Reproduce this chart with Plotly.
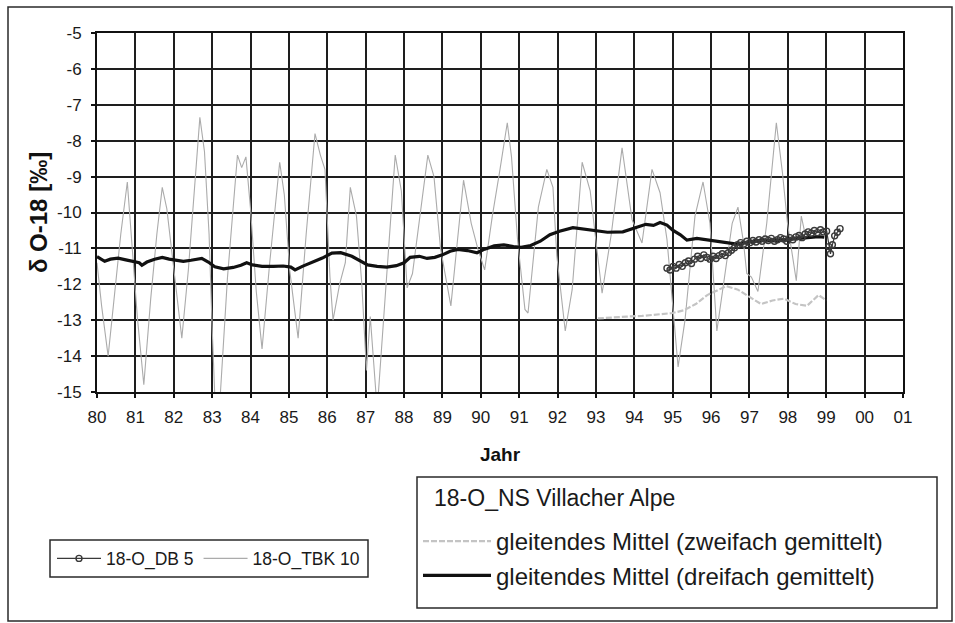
import plotly.graph_objects as go

# ---------------------------------------------------------------------------
# δ18O series (Villacher Alpe), decimal years
# ---------------------------------------------------------------------------
years_tbk = [
    1980.00, 1980.12, 1980.29, 1980.45, 1980.62, 1980.79, 1980.92, 1981.05,
    1981.22, 1981.40, 1981.56, 1981.70, 1981.82, 1981.96, 1982.21, 1982.38,
    1982.55, 1982.68, 1982.80, 1982.92, 1983.00, 1983.08, 1983.20, 1983.40,
    1983.66, 1983.77, 1983.88, 1984.00, 1984.15, 1984.30, 1984.50, 1984.76,
    1984.88, 1985.02, 1985.24, 1985.45, 1985.68, 1985.82, 1985.94, 1986.07,
    1986.15, 1986.32, 1986.47, 1986.60, 1986.76, 1986.90, 1987.02, 1987.12,
    1987.30, 1987.55, 1987.77, 1987.93, 1988.08, 1988.22, 1988.62, 1988.78,
    1988.95, 1989.22, 1989.38, 1989.55, 1989.75, 1989.92, 1990.10, 1990.30,
    1990.50, 1990.69, 1990.80, 1990.96, 1991.15, 1991.23, 1991.50, 1991.72,
    1991.88, 1991.98, 1992.20, 1992.38, 1992.64, 1992.85, 1993.00, 1993.16,
    1993.40, 1993.68, 1993.94, 1994.20, 1994.46, 1994.67, 1994.85, 1995.05,
    1995.14, 1995.32, 1995.58, 1995.79, 1995.97, 1996.15, 1996.32, 1996.55,
    1996.70, 1996.84, 1996.93, 1997.05, 1997.22, 1997.45, 1997.70, 1997.86,
    1997.99, 1998.22, 1998.35, 1998.45,
]
d18o_tbk = [
    -11.40, -12.60, -14.00, -12.30, -10.60, -9.15, -10.90, -12.90,
    -14.80, -12.40, -10.60, -9.30, -9.90, -11.20, -13.50, -11.60,
    -9.30, -7.35, -8.30, -10.60, -13.20, -15.40, -15.30, -11.80,
    -8.40, -8.75, -8.45, -9.90, -12.20, -13.80, -11.40, -8.60,
    -9.50, -11.60, -13.50, -10.60, -7.80, -8.40, -8.80, -11.80,
    -13.00, -12.00, -11.40, -9.30, -10.10, -12.00, -14.40, -12.90,
    -15.50, -11.80, -8.40, -9.40, -12.10, -11.70, -8.40, -9.00,
    -11.00, -12.60, -10.80, -9.10, -10.30, -11.00, -11.60, -10.10,
    -8.80, -7.50, -8.45, -10.80, -12.70, -12.80, -9.85, -8.80,
    -9.30, -11.20, -13.30, -12.15, -8.60, -9.40, -10.80, -12.25,
    -10.60, -8.20, -10.20, -10.85, -8.80, -9.45, -10.75, -13.20,
    -14.30, -13.00, -10.10, -9.15, -10.30, -13.30, -12.00, -10.30,
    -9.85, -10.80, -11.70, -11.80, -12.20, -10.30, -7.50, -8.90,
    -10.30, -11.90, -10.10, -10.60,
]

years_db5 = [
    1994.85, 1994.93, 1995.01, 1995.09, 1995.17, 1995.25, 1995.33, 1995.41,
    1995.49, 1995.57, 1995.65, 1995.73, 1995.81, 1995.89, 1995.97, 1996.05,
    1996.13, 1996.21, 1996.29, 1996.37, 1996.45, 1996.53, 1996.61, 1996.69,
    1996.77, 1996.85, 1996.93, 1997.01, 1997.09, 1997.17, 1997.25, 1997.33,
    1997.41, 1997.49, 1997.57, 1997.65, 1997.73, 1997.81, 1997.89, 1997.97,
    1998.05, 1998.13, 1998.21, 1998.29, 1998.37, 1998.45, 1998.53, 1998.61,
    1998.69, 1998.77, 1998.85, 1998.93, 1999.01, 1999.07, 1999.11, 1999.16,
    1999.22, 1999.29, 1999.36,
]
d18o_db5 = [
    -11.55, -11.60, -11.50, -11.55, -11.45, -11.50, -11.40, -11.35,
    -11.42, -11.30, -11.22, -11.28, -11.18, -11.25, -11.30, -11.22,
    -11.28, -11.20, -11.15, -11.20, -11.12, -11.05, -10.98, -10.90,
    -10.84, -10.88, -10.80, -10.84, -10.78, -10.82, -10.76, -10.80,
    -10.74, -10.78, -10.72, -10.80, -10.76, -10.70, -10.74, -10.80,
    -10.70, -10.76, -10.68, -10.64, -10.70, -10.60, -10.54, -10.58,
    -10.50, -10.56, -10.48, -10.54, -10.52, -10.95, -11.15, -10.90,
    -10.65, -10.55, -10.45,
]

# moving average, applied three times
years_ma3 = [
    1980.00, 1980.10, 1980.20, 1980.35, 1980.55, 1980.75, 1980.92, 1981.10,
    1981.17, 1981.30, 1981.50, 1981.70, 1981.88, 1982.05, 1982.25, 1982.45,
    1982.62, 1982.73, 1982.90, 1983.07, 1983.30, 1983.55, 1983.75, 1983.90,
    1984.05, 1984.30, 1984.60, 1984.85, 1985.05, 1985.16, 1985.35, 1985.60,
    1985.87, 1986.12, 1986.35, 1986.64, 1986.85, 1987.05, 1987.30, 1987.55,
    1987.80, 1988.00, 1988.16, 1988.40, 1988.60, 1988.80, 1989.00, 1989.20,
    1989.40, 1989.65, 1989.90, 1990.10, 1990.35, 1990.60, 1990.85, 1991.05,
    1991.30, 1991.55, 1991.80, 1992.05, 1992.40, 1992.60, 1992.85, 1993.05,
    1993.30, 1993.70, 1994.07, 1994.30, 1994.50, 1994.67, 1994.85, 1995.00,
    1995.20, 1995.37, 1995.63, 1995.97, 1996.30, 1996.67, 1997.00, 1997.30,
    1997.60, 1997.90, 1998.20, 1998.50, 1998.80, 1998.95,
]
d18o_ma3 = [
    -11.23, -11.30, -11.36, -11.30, -11.27, -11.32, -11.36, -11.40,
    -11.47, -11.38, -11.30, -11.25, -11.30, -11.33, -11.36, -11.33,
    -11.31, -11.28, -11.38, -11.51, -11.57, -11.53, -11.47, -11.40,
    -11.46, -11.50, -11.50, -11.49, -11.52, -11.60, -11.50, -11.40,
    -11.27, -11.13, -11.12, -11.22, -11.35, -11.46, -11.50, -11.52,
    -11.48, -11.40, -11.25, -11.22, -11.28, -11.25, -11.18, -11.08,
    -11.03, -11.06, -11.12, -11.02, -10.93, -10.90, -10.95, -10.97,
    -10.92, -10.80, -10.62, -10.52, -10.42, -10.45, -10.49, -10.50,
    -10.55, -10.54, -10.40, -10.33, -10.36, -10.28, -10.35, -10.49,
    -10.62, -10.77, -10.72, -10.77, -10.82, -10.88, -10.82, -10.78,
    -10.79, -10.76, -10.73, -10.69, -10.67, -10.69,
]

# moving average, applied twice
years_ma2 = [
    1993.05, 1993.40, 1993.80, 1994.20, 1994.60, 1995.00, 1995.30, 1995.60,
    1995.90, 1996.10, 1996.40, 1996.70, 1997.00, 1997.30, 1997.60, 1997.90,
    1998.20, 1998.50, 1998.80, 1999.00,
]
d18o_ma2 = [
    -12.95, -12.92, -12.90, -12.88, -12.85, -12.80, -12.72, -12.55,
    -12.30, -12.20, -12.05, -12.15, -12.35, -12.55, -12.45, -12.40,
    -12.55, -12.60, -12.30, -12.45,
]

tick_years = list(range(1980, 2002))
tick_labels = ["80", "81", "82", "83", "84", "85", "86", "87", "88", "89", "90",
               "91", "92", "93", "94", "95", "96", "97", "98", "99", "00", "01"]
y_ticks = [-15, -14, -13, -12, -11, -10, -9, -8, -7, -6, -5]
y_tick_labels = ["-15", "-14", "-13", "-12", "-11", "-10", "-9", "-8", "-7",
                 "-6", "-5"]

# ---------------------------------------------------------------------------
# page geometry (pixels) and helpers to convert to paper coordinates
# ---------------------------------------------------------------------------
W, H = 955, 623
PL, PR, PT, PB = 97, 903, 33, 392


def pxx(p):
    return (p - PL) / (PR - PL)


def pxy(p):
    return (PB - p) / (PB - PT)


FONT = "Arial, 'Liberation Sans', Helvetica, sans-serif"
INK = "#1a1a1a"

fig = go.Figure()

fig.add_trace(go.Scatter(
    x=years_tbk, y=d18o_tbk, name="18-O_TBK 10", mode="lines",
    line=dict(color="#ababab", width=1.1),
    legend="legend", legendrank=2,
))
fig.add_trace(go.Scatter(
    x=years_ma2, y=d18o_ma2, name="gleitendes Mittel (zweifach gemittelt)",
    mode="lines", line=dict(color="#c4c4c4", width=2.2, dash="6px,2px"),
    legend="legend2", legendgroup="ma2", legendrank=1,
))
fig.add_trace(go.Scatter(
    x=years_ma3, y=d18o_ma3, name="gleitendes Mittel (dreifach gemittelt)",
    mode="lines", line=dict(color="#111111", width=3.2),
    legend="legend2", legendgroup="ma3", legendrank=2,
))
fig.add_trace(go.Scatter(
    x=years_db5, y=d18o_db5, name="18-O_DB 5", mode="lines+markers",
    line=dict(color="#3a3a3a", width=1.2),
    marker=dict(symbol="circle-open", size=6, color="#3a3a3a",
                line=dict(width=1.4, color="#3a3a3a")),
    legend="legend", legendrank=1,
))

axis_common = dict(
    showgrid=True, gridcolor="#1e1e1e", gridwidth=1.6,
    showline=True, linecolor="#111111", linewidth=2, mirror=True,
    ticks="outside", ticklen=4, tickcolor="#111111", tickwidth=1.5,
    tickfont=dict(family=FONT, size=17, color=INK),
    zeroline=False,
)

fig.update_xaxes(
    range=[1980, 2001], tickmode="array", tickvals=tick_years,
    ticktext=tick_labels, ticklabelstandoff=5,
    title=dict(text="Jahr", standoff=21,
               font=dict(family=FONT, size=19, color="#111111", weight="bold")),
    **axis_common,
)
fig.update_yaxes(
    range=[-15, -5], tickmode="array", tickvals=y_ticks,
    ticktext=y_tick_labels, ticklabelstandoff=6,
    title=dict(text="δ O-18 [‰]", standoff=3,
               font=dict(family=FONT, size=24, color="#111111", weight="bold")),
    **axis_common,
)

# outer frame and the two legend boxes
shapes = [
    dict(type="rect", xref="paper", yref="paper",
         x0=pxx(8), x1=pxx(952), y0=pxy(621), y1=pxy(7),
         line=dict(color="#2a2a2a", width=1.5)),
    dict(type="rect", xref="paper", yref="paper",
         x0=pxx(50), x1=pxx(368), y0=pxy(577), y1=pxy(540),
         line=dict(color="#2a2a2a", width=1.5)),
    dict(type="rect", xref="paper", yref="paper",
         x0=pxx(417), x1=pxx(937), y0=pxy(608), y1=pxy(477),
         line=dict(color="#2a2a2a", width=1.5)),
]

annotations = [
    dict(text="18-O_NS Villacher Alpe", xref="paper", yref="paper",
         x=pxx(432), y=pxy(498), xanchor="left", yanchor="middle",
         showarrow=False, font=dict(family=FONT, size=23, color=INK)),
]

fig.update_layout(
    width=W, height=H, autosize=False,
    margin=dict(l=PL, r=W - PR, t=PT, b=H - PB, pad=0),
    paper_bgcolor="white", plot_bgcolor="white",
    font=dict(family=FONT, color=INK),
    shapes=shapes, annotations=annotations,
    legend=dict(
        orientation="h", x=pxx(52), y=pxy(558.5), xanchor="left",
        yanchor="middle", bgcolor="rgba(0,0,0,0)", borderwidth=0,
        font=dict(family=FONT, size=17.5, color=INK),
        itemwidth=44, traceorder="normal",
    ),
    legend2=dict(
        orientation="v", x=pxx(418), y=pxy(519), xanchor="left",
        yanchor="top", bgcolor="rgba(0,0,0,0)", borderwidth=0,
        font=dict(family=FONT, size=24, color=INK),
        itemwidth=68, tracegroupgap=7, traceorder="normal",
    ),
)

fig.write_html("out.html")
